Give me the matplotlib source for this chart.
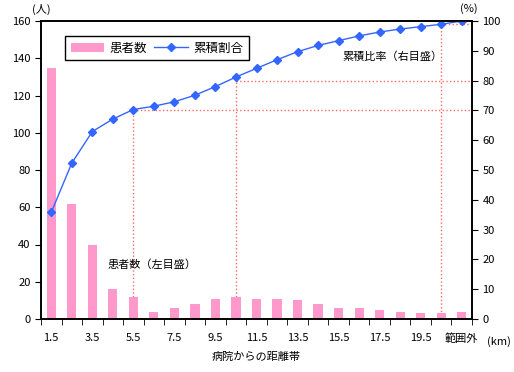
import numpy as np
import matplotlib
matplotlib.use("Agg")
import matplotlib.pyplot as plt

plt.rcParams['font.family'] = ['Noto Sans CJK JP', 'DejaVu Sans']
plt.rcParams['font.size'] = 8

# data
categories = ['1.5', '2.5', '3.5', '4.5', '5.5', '6.5', '7.5', '8.5', '9.5', '10.5',
              '11.5', '12.5', '13.5', '14.5', '15.5', '16.5', '17.5', '18.5', '19.5',
              '20.5', '範囲外']
patients = [135, 62, 40, 16, 12, 4, 6, 8, 11, 12, 11, 11, 10, 8, 6, 6, 5, 4, 3, 3, 4]
cum_pct = [35.8, 52.3, 62.9, 67.1, 70.3, 71.4, 72.9, 75.1, 78.0, 81.2, 84.1,
           87.0, 89.7, 91.8, 93.4, 95.0, 96.3, 97.3, 98.1, 98.9, 100.0]
ref_idx = [4, 9, 19]
ref_pct = [70, 80, 99]

x = np.arange(len(categories))

fig = plt.figure(figsize=(5.14, 3.72), dpi=100)
ax = fig.add_axes([41/514, 1-319/372, 431/514, 298/372])
ax2 = ax.twinx()

# dotted guide lines (drawn on the left axis so bars cover them)
for i, p in zip(ref_idx, ref_pct):
    yv = p * 160 / 100
    ax.plot([i, i], [0, yv], color='#ff6666', linestyle=':', linewidth=1, zorder=1)
    ax.plot([i, len(categories) - 0.5], [yv, yv], color='#ff6666', linestyle=':',
            linewidth=1, zorder=1)

bars = ax.bar(x, patients, width=0.45, color='#ff99cc', zorder=2, label='患者数')
line, = ax2.plot(x, cum_pct, color='#3366ff', marker='D', markersize=4.5,
                 linewidth=1, label='累積割合')

ax.set_xlim(-0.5, len(categories) - 0.5)
ax.set_ylim(0, 160)
ax2.set_ylim(0, 100)
ax.set_yticks(np.arange(0, 161, 20))
ax2.set_yticks(np.arange(0, 101, 10))

ax.set_xticks(x[::2])
ax.set_xticklabels(categories[::2])
ax.set_xticks(np.arange(-0.5, len(categories), 1), minor=True)
ax.tick_params(axis='x', which='major', length=0, pad=10)
ax.tick_params(axis='x', which='minor', length=4, direction='out')
ax.tick_params(axis='y', length=4, direction='out')
ax2.tick_params(axis='y', length=4, direction='out')

for a in (ax, ax2):
    for s in a.spines.values():
        s.set_linewidth(1.2)

ax.set_xlabel('病院からの距離帯', labelpad=6)
fig.text(32/514, 1-9/372, '(人)', ha='left', va='center')
fig.text(460/514, 1-9/372, '(%)', ha='left', va='center')
fig.text(487/514, 1-342/372, '(km)', ha='left', va='center')

ax.text(0.155, 0.181, '患者数（左目盛）', transform=ax.transAxes, ha='left', va='center')
ax.text(0.70, 0.879, '累積比率（右目盛）', transform=ax.transAxes, ha='left', va='center')

leg = ax2.legend([bars, line], ['患者数', '累積割合'], loc='upper left',
                 bbox_to_anchor=(0.0557, 0.95), borderaxespad=0, ncol=2, frameon=True,
                 fancybox=False, edgecolor='black', framealpha=1, borderpad=0.45,
                 handlelength=2.7, columnspacing=0.6, handletextpad=0.4, fontsize=9)
leg.get_frame().set_linewidth(1)

fig.savefig('out.png', dpi=100)
